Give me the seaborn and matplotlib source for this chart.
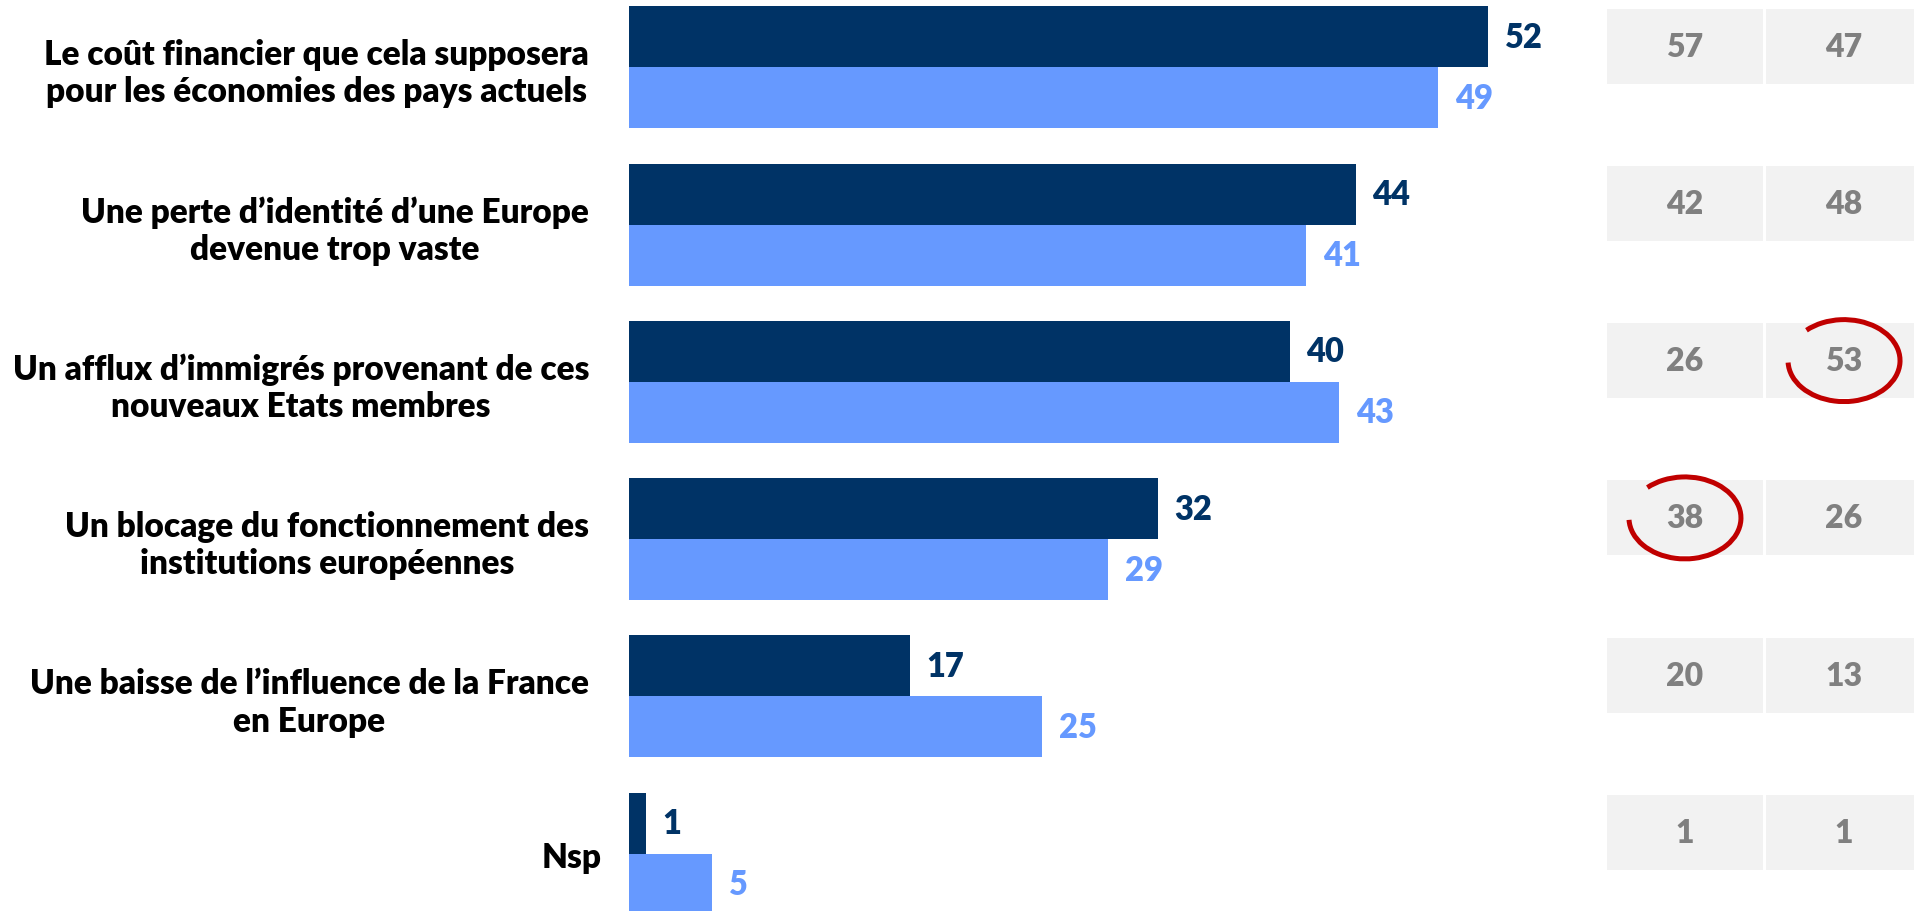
import numpy as np
import pandas as pd
import seaborn as sns
import matplotlib.pyplot as plt
import matplotlib.transforms as mtransforms
from matplotlib.patches import Arc

# data
categories = [
    "Le coût financier que cela supposera\npour les économies des pays actuels",
    "Une perte d’identité d’une Europe\ndevenue trop vaste",
    "Un afflux d’immigrés provenant de ces\nnouveaux Etats membres",
    "Un blocage du fonctionnement des\ninstitutions européennes",
    "Une baisse de l’influence de la France\nen Europe",
    "Nsp",
]
series = ["Vague 1", "Vague 2"]
values_dark = [52, 44, 40, 32, 17, 1]
values_light = [49, 41, 43, 29, 25, 5]
table_col1 = [57, 42, 26, 38, 20, 1]
table_col2 = [47, 48, 53, 26, 13, 1]
circled = [(2, 1), (3, 0)]  # (row, column) of the cells circled in red

DARK = "#003366"
LIGHT = "#6699FF"
CELL = "#F2F2F2"
GREY = "#808080"
RED = "#C00000"
WEIGHT = "heavy"

sns.set_style("white")
plt.rcParams["font.family"] = ["Lato", "DejaVu Sans"]

df = pd.DataFrame({
    "category": categories * 2,
    "serie": [series[0]] * len(categories) + [series[1]] * len(categories),
    "value": values_dark + values_light,
})

W, H = 1915, 912
fig = plt.figure(figsize=(W / 100, H / 100), dpi=100)
x0 = 629.3
ax = fig.add_axes([x0 / W, 0, (1600 - x0) / W, 1])
ax.patch.set_visible(False)

sns.barplot(data=df, y="category", x="value", hue="serie", orient="h",
            palette=[DARK, LIGHT], saturation=1, width=0.776, linewidth=0,
            errorbar=None, legend=False, ax=ax)

px_per_unit = 16.51
ax.set_xlim(0, (1600 - x0) / px_per_unit)
ax.set_ylim(5.364, -0.434)

for cont, col in zip(ax.containers, [DARK, LIGHT]):
    ax.bar_label(cont, padding=12, color=col, fontsize=23.5, fontweight=WEIGHT)

ax.set_xlabel("")
ax.set_ylabel("")
ax.set_xticks([])
ax.set_yticks(range(len(categories)))
ax.set_yticklabels(categories)
ax.tick_params(axis="y", length=0, pad=29)
for lab in ax.get_yticklabels():
    lab.set_fontsize(24)
    lab.set_fontweight(WEIGHT)
    lab.set_color("black")
    lab.set_multialignment("center")
# the short "Nsp" label sits a little closer to its bars
nsp = ax.get_yticklabels()[-1]
nsp.set_transform(nsp.get_transform() +
                  mtransforms.ScaledTranslation(9 / 72, 0, fig.dpi_scale_trans))
sns.despine(ax=ax, left=True, bottom=True)

# side table with the two comparison columns
tab = fig.add_axes([1607 / W, 0, 315 / W, 1], sharey=ax)
tab.set_xlim(0, 2)
tab.axis("off")
rows = np.arange(len(categories))
cell_w, cell_h, dy = 0.99, 0.477, -0.135
for j, col_vals in enumerate([table_col1, table_col2]):
    left = j * 1.01
    tab.barh(rows + dy, cell_w, left=left, height=cell_h, color=CELL, linewidth=0)
    for i, v in enumerate(col_vals):
        tab.text(left + cell_w / 2, i + dy, str(v), ha="center", va="center",
                 fontsize=23, fontweight=WEIGHT, color=GREY)

for i, j in circled:
    tab.add_patch(Arc((j * 1.01 + cell_w / 2, i + dy), 0.711, 0.521,
                      theta1=-141, theta2=178, color=RED, lw=3.6))

fig.savefig("out.png", dpi=100)
